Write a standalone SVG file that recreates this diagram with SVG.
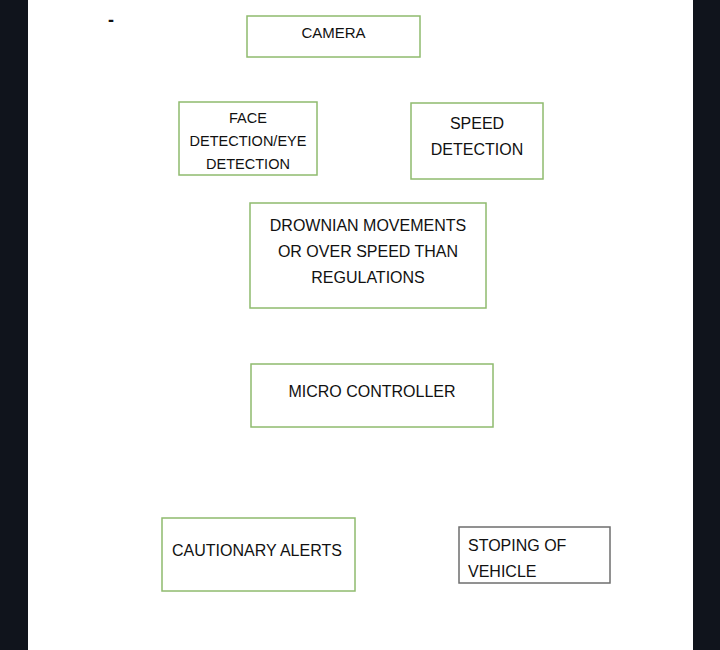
<svg xmlns="http://www.w3.org/2000/svg" width="720" height="650" viewBox="0 0 720 650">
<style>
.g{fill:#fff;stroke:#8fbb6e;stroke-width:1.5}
.k{fill:#fff;stroke:#6e6e6e;stroke-width:1.5}
text{font-family:"Liberation Sans",Arial,sans-serif;font-size:16px;fill:#111}
.c{text-anchor:middle}
</style>
<rect width="720" height="650" fill="#fff"/>
<rect x="0" y="0" width="28" height="650" fill="#10141c"/>
<rect x="693" y="0" width="27" height="650" fill="#10141c"/>
<text x="108" y="26" style="font-size:18px;font-weight:bold">-</text>
<g id="camera"><rect class="g" x="247" y="16" width="173" height="41"/><text class="c" x="333.5" y="38" style="font-size:15px">CAMERA</text></g>
<g id="face"><rect class="g" x="179" y="102" width="138" height="73"/><text class="c" x="248" y="123" style="font-size:14.5px">FACE</text><text class="c" x="248" y="146" style="font-size:14.5px">DETECTION/EYE</text><text class="c" x="248" y="169" style="font-size:14.5px">DETECTION</text></g>
<g id="speed"><rect class="g" x="411" y="103" width="132" height="76"/><text class="c" x="477" y="129">SPEED</text><text class="c" x="477" y="155">DETECTION</text></g>
<g id="drownian"><rect class="g" x="250" y="203" width="236" height="105"/><text class="c" x="368" y="231">DROWNIAN MOVEMENTS</text><text class="c" x="368" y="257">OR OVER SPEED THAN</text><text class="c" x="368" y="283">REGULATIONS</text></g>
<g id="micro"><rect class="g" x="251" y="364" width="242" height="63"/><text class="c" x="372" y="397">MICRO CONTROLLER</text></g>
<g id="alerts"><rect class="g" x="162" y="518" width="193" height="73"/><text x="172" y="556">CAUTIONARY ALERTS</text></g>
<g id="stop"><rect class="k" x="459" y="527" width="151" height="56"/><text x="468" y="551">STOPING OF</text><text x="468" y="577">VEHICLE</text></g>
<g id="connectors"></g>
</svg>
